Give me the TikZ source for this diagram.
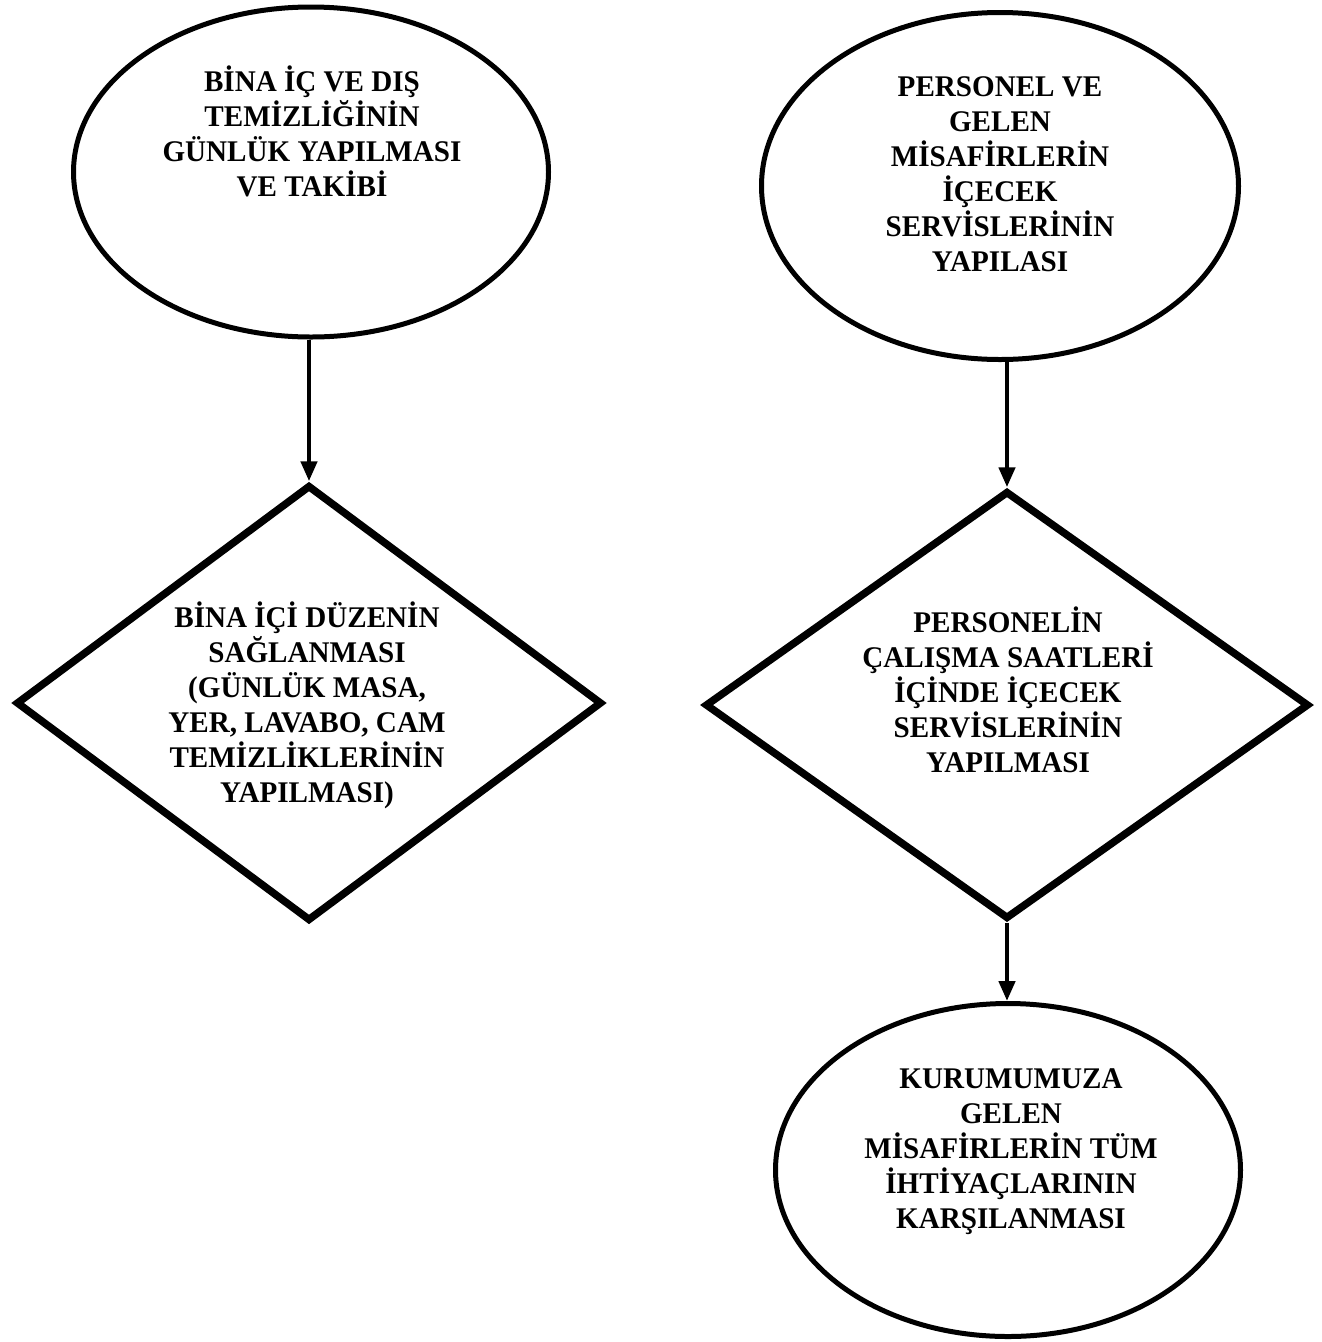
\documentclass[tikz,border=0pt]{standalone}
\usepackage{fontspec}
\setmainfont{Liberation Serif}[FakeStretch=0.97]
\usetikzlibrary{shapes.geometric,arrows.meta}
\begin{document}
\begin{tikzpicture}[x=1pt,y=-1pt,
  ellbox/.style={draw,ellipse,line width=5pt,inner sep=0pt},
  diabox/.style={draw,diamond,line width=7.5pt,inner sep=0pt},
  txt/.style={align=center,inner sep=0pt,font=\bfseries\fontsize{30}{35}\selectfont},
  arr/.style={line width=4.5pt,-{Triangle[width=16pt,length=20pt]}}]
\useasboundingbox (0,0) rectangle (1322,1342);
% shapes
\node[ellbox,minimum width=475pt,minimum height=330pt] (e1) at (311,172) {};
\node[ellbox,minimum width=477pt,minimum height=347pt] (e2) at (1000,186) {};
\node[diabox,minimum width=586pt,minimum height=436pt] (d1) at (309,703) {};
\node[diabox,minimum width=604pt,minimum height=428pt] (d2) at (1007,705) {};
\node[ellbox,minimum width=465pt,minimum height=333pt] (e3) at (1008,1170) {};
% texts
\node[txt] (t1) at (312,131) {BİNA İÇ VE DIŞ\\TEMİZLİĞİNİN\\GÜNLÜK YAPILMASI\\VE TAKİBİ};
\node[txt] (t2) at (1000,174) {PERSONEL VE\\GELEN\\MİSAFİRLERİN\\İÇECEK\\SERVİSLERİNİN\\YAPILASI};
\node[txt] (t3) at (307,705) {BİNA İÇİ DÜZENİN\\SAĞLANMASI\\(GÜNLÜK MASA,\\YER, LAVABO, CAM\\TEMİZLİKLERİNİN\\YAPILMASI)};
\node[txt] (t4) at (1008,690) {PERSONELİN\\ÇALIŞMA SAATLERİ\\İÇİNDE İÇECEK\\SERVİSLERİNİN\\YAPILMASI};
\node[txt] (t5) at (1011,1152) {KURUMUMUZA\\GELEN\\MİSAFİRLERİN TÜM\\İHTİYAÇLARININ\\KARŞILANMASI};
% connectors
\draw[arr] (e1.south -| d1.north) -- (d1.north);
\draw[arr] (e2.south -| d2.north) -- (d2.north);
\draw[arr] (d2.south) -- (d2.south |- e3.north);
\end{tikzpicture}
\end{document}
